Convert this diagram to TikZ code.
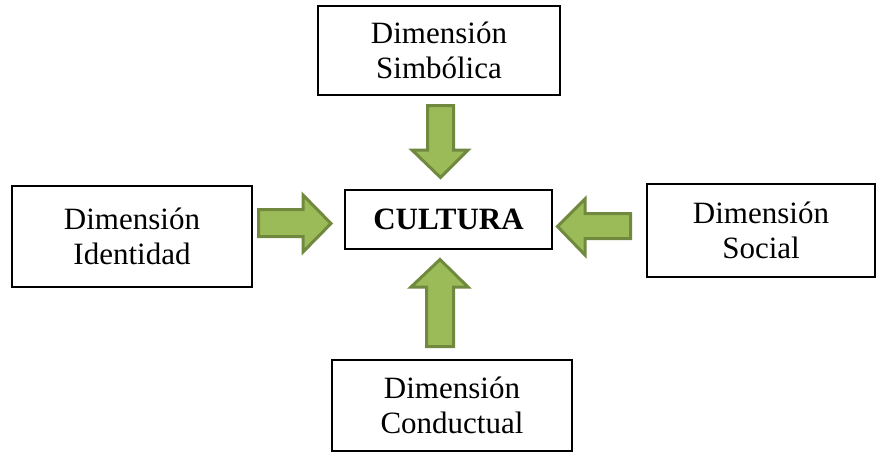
\documentclass[tikz,border=0pt]{standalone}
\usepackage{fontspec}
\setmainfont{Liberation Serif}
\definecolor{arrfill}{HTML}{9BBB59}
\definecolor{arrline}{HTML}{71893F}
\begin{document}
\begin{tikzpicture}[x=1pt,y=-1pt,
  dimbox/.style={draw=black,line width=1.3pt,align=center,inner sep=0pt,
    font=\fontsize{31}{35}\selectfont},
  blockarrow/.style={draw=arrline,fill=arrfill,line width=3pt,line join=miter}]
\useasboundingbox[fill=white] (0,0) rectangle (876,453);
% boxes
\node[dimbox,minimum width=242pt,minimum height=89pt] (sim) at (439,50.5) {Dimensión\\Simbólica};
\node[dimbox,minimum width=240pt,minimum height=101pt] (ide) at (132,236.5) {Dimensión\\Identidad};
\node[dimbox,minimum width=228pt,minimum height=93pt] (soc) at (761,230.5) {Dimensión\\Social};
\node[dimbox,minimum width=240pt,minimum height=91pt] (con) at (452,405.5) {Dimensión\\Conductual};
\node[dimbox,minimum width=207pt,minimum height=59pt,font=\fontsize{31}{35}\selectfont\bfseries] (cul) at (448.5,219.5) {CULTURA};
% block arrows
\draw[blockarrow] (427.5,105.5) -- (453.5,105.5) -- (453.5,150) -- (468,150) -- (440.5,177.5) -- (412,150) -- (427.5,150) -- cycle;
\draw[blockarrow] (426.5,346.5) -- (453.5,346.5) -- (453.5,287) -- (468,287) -- (440,259.5) -- (411,287) -- (426.5,287) -- cycle;
\draw[blockarrow] (258.5,209.5) -- (303,209.5) -- (303,195) -- (331,223.5) -- (303,252) -- (303,236.5) -- (258.5,236.5) -- cycle;
\draw[blockarrow] (630.5,213.5) -- (585,213.5) -- (585,199) -- (557.5,226.5) -- (585,255) -- (585,238.5) -- (630.5,238.5) -- cycle;
\end{tikzpicture}
\end{document}
